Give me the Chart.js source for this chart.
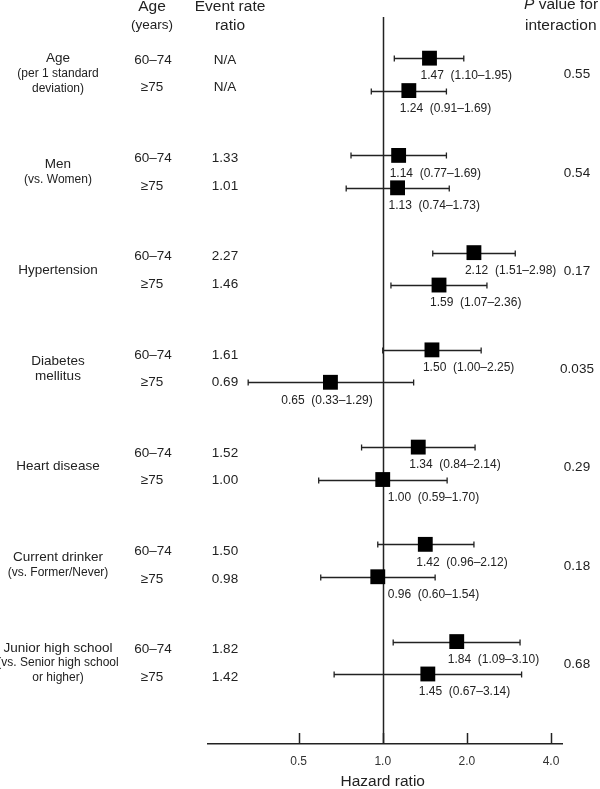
<!DOCTYPE html>
<html><head><meta charset="utf-8">
<script src="https://cdn.jsdelivr.net/npm/chart.js@4"></script>
<style>html,body{margin:0;padding:0;background:#fff}#wrap{width:600px;height:789px}</style>
</head><body><div id="wrap"><canvas id="c" width="600" height="789"></canvas></div>
<script>
// ---- data ----
const groupTitles = [["Age"],["Men"],["Hypertension"],["Diabetes","mellitus"],["Heart disease"],["Current drinker"],["Junior high school"]];
const groupNotes = [["(per 1 standard","deviation)"],["(vs. Women)"],[],[],[],["(vs. Former/Never)"],["(vs. Senior high school","or higher)"]];
const ageBands = ["60–74","≥75"];
const eventRate6074 = ["N/A","1.33","2.27","1.61","1.52","1.50","1.82"];
const eventRate75 = ["N/A","1.01","1.46","0.69","1.00","0.98","1.42"];
const hr6074 = [1.47,1.14,2.12,1.50,1.34,1.42,1.84];
const lo6074 = [1.10,0.77,1.51,1.00,0.84,0.96,1.09];
const hi6074 = [1.95,1.69,2.98,2.25,2.14,2.12,3.10];
const hr75 = [1.24,1.13,1.59,0.65,1.00,0.96,1.45];
const lo75 = [0.91,0.74,1.07,0.33,0.59,0.60,0.67];
const hi75 = [1.69,1.73,2.36,1.29,1.70,1.54,3.14];
const pInteraction = ["0.55","0.54","0.17","0.035","0.29","0.18","0.68"];
const xTicks = [0.5,1,2,4];
const xTickLabels = ["0.5","1.0","2.0","4.0"];
const xTitle = "Hazard ratio";

// ---- build ----
const FONT = "'Liberation Sans', Arial, sans-serif";
const rowsA = hr6074.map((v,g)=>({x:v, y:g*3, lo:lo6074[g], hi:hi6074[g]}));
const rowsB = hr75.map((v,g)=>({x:v, y:g*3+1, lo:lo75[g], hi:hi75[g]}));

const forestPlugin = {
  id:'forest',
  beforeDatasetsDraw(chart){
    const {ctx, chartArea:a, scales:{x,y}} = chart;
    ctx.save();
    ctx.strokeStyle = '#222';
    // reference line
    ctx.lineWidth = 1.5;
    const rx = Math.round(x.getPixelForValue(1))+0.5;
    ctx.beginPath(); ctx.moveTo(rx, a.top); ctx.lineTo(rx, a.bottom); ctx.stroke();
    // tick marks upward
    xTicks.forEach(t=>{
      const px = Math.round(x.getPixelForValue(t))+0.5;
      ctx.beginPath(); ctx.moveTo(px, a.bottom); ctx.lineTo(px, a.bottom-11); ctx.stroke();
    });
    // whiskers
    ctx.lineWidth = 1.3;
    chart.data.datasets.forEach(ds=>{
      ds.data.forEach(d=>{
        const py = Math.round(y.getPixelForValue(d.y))+0.5;
        const x0 = x.getPixelForValue(d.lo), x1 = x.getPixelForValue(d.hi);
        ctx.beginPath();
        ctx.moveTo(x0, py); ctx.lineTo(x1, py);
        ctx.moveTo(x0, py-3); ctx.lineTo(x0, py+3);
        ctx.moveTo(x1, py-3); ctx.lineTo(x1, py+3);
        ctx.stroke();
      });
    });
    ctx.restore();
  },
  afterDraw(chart){
    const {ctx, chartArea:a, scales:{x,y}} = chart;
    ctx.save();
    ctx.fillStyle = '#222';
    ctx.textBaseline = 'middle';
    // headers
    ctx.textAlign = 'center';
    ctx.font = `15.5px ${FONT}`;
    ctx.fillText("Age", 152, 7);
    ctx.fillText("Event rate", 230, 7);
    ctx.fillText("ratio", 230, 26);
    ctx.font = `13.5px ${FONT}`;
    ctx.fillText("(years)", 152, 25);
    ctx.textAlign = 'left';
    ctx.font = `italic 15.5px ${FONT}`;
    ctx.fillText("P", 524, 5);
    const pw = ctx.measureText("P").width;
    ctx.font = `15.5px ${FONT}`;
    ctx.fillText(" value for", 524+pw, 5);
    ctx.fillText("interaction", 525, 26);

    const refX = x.getPixelForValue(1);
    groupTitles.forEach((title,g)=>{
      const t60 = y.getPixelForValue(g*3) + 2 + g;
      const t75 = t60 + 27.5;
      const center = t60 + 13.5;
      // group label
      const lines = title.map(s=>({s, main:true})).concat(groupNotes[g].map(s=>({s, main:false})));
      const lh = 15;
      const start = center - (lines.length-1)*lh/2;
      ctx.textAlign = 'center';
      lines.forEach((ln,i)=>{
        ctx.font = ln.main ? `13.5px ${FONT}` : `12px ${FONT}`;
        ctx.fillText(ln.s, 58, start + i*lh);
      });
      // age bands + event rates
      ctx.font = `13.5px ${FONT}`;
      ctx.fillText(ageBands[0], 153, t60);
      ctx.fillText(ageBands[1], 152, t75);
      ctx.fillText(eventRate6074[g], 225, t60);
      ctx.fillText(eventRate75[g], 225, t75);
      // p value
      ctx.fillText(pInteraction[g], 577, center + 1);
    });
    // annotations
    ctx.font = `12px ${FONT}`;
    ctx.textAlign = 'left';
    chart.data.datasets.forEach(ds=>{
      ds.data.forEach(d=>{
        const bx = x.getPixelForValue(d.x);
        const by = y.getPixelForValue(d.y);
        const txt = `${d.x.toFixed(2)}  (${d.lo.toFixed(2)}–${d.hi.toFixed(2)})`;
        const w = ctx.measureText(txt).width;
        let sx;
        if (bx + 7 < refX) sx = refX - 10 - w;
        else sx = Math.max(bx - 9, refX + 5);
        ctx.fillText(txt, sx, by + 18);
      });
    });
    // axis title
    ctx.textAlign = 'center';
    ctx.font = `15.5px ${FONT}`;
    ctx.fillText(xTitle, x.getPixelForValue(1), 782);
    ctx.restore();
  }
};

new Chart(document.getElementById('c'), {
  type:'scatter',
  data:{datasets:[
    {label:ageBands[0], data:rowsA, pointStyle:'rect', pointRadius:10.5, backgroundColor:'#000', borderWidth:0},
    {label:ageBands[1], data:rowsB, pointStyle:'rect', pointRadius:10.5, backgroundColor:'#000', borderWidth:0}
  ]},
  options:{
    responsive:false, animation:false,
    layout:{padding:{left:208, right:38, top:17, bottom:0}},
    plugins:{legend:{display:false}, tooltip:{enabled:false}},
    scales:{
      x:{type:'logarithmic', min:0.237, max:4.38,
        afterBuildTicks:s=>{ s.ticks = xTicks.map(v=>({value:v})); },
        afterFit:s=>{ s.height = 45; },
        grid:{display:false, drawTicks:false},
        border:{display:true, color:'#222', width:1.5},
        ticks:{padding:10, color:'#333', font:{family:FONT, size:12},
          callback:(v,i)=>xTickLabels[i]}
      },
      y:{type:'linear', reverse:true, min:-1.27, max:21.16, display:false,
        afterFit:s=>{ s.width = 0; } }
    }
  },
  plugins:[forestPlugin]
});
</script>
</body></html>
